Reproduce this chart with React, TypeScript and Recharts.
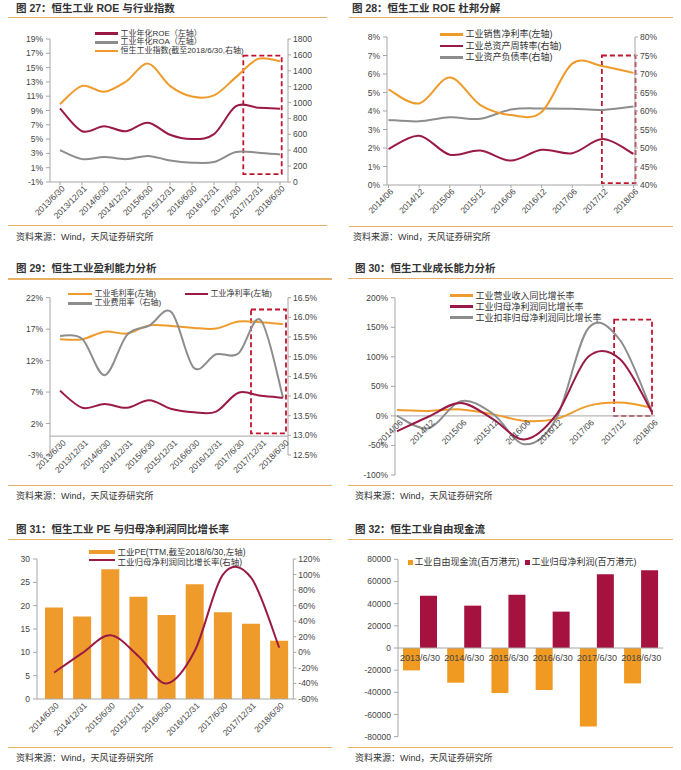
import React from "react";
import {
  LineChart,
  BarChart,
  ComposedChart,
  Line,
  Bar,
  XAxis,
  YAxis,
  ReferenceArea,
  ReferenceLine,
  ReferenceDot,
} from "recharts";

const FONT = '"Liberation Sans", Arial, "Noto Sans CJK SC", sans-serif';
const ORANGE = "#EE9B2C";
const MAROON = "#9B1A44";
const GREY = "#8D8D8D";
const BOX_RED = "#C0152F";
const AXIS = "#A6A6A6";
const TICK_TXT = "#444";
const RULE = "#E8B066";

// 图27 / 图29 半年度
const halfYears = [
  "2013/6/30", "2013/12/31", "2014/6/30", "2014/12/31", "2015/6/30", "2015/12/31",
  "2016/6/30", "2016/12/31", "2017/6/30", "2017/12/31", "2018/6/30",
];
const roe = [9.3, 6.1, 6.8, 6.1, 7.3, 5.6, 5.0, 5.7, 9.6, 9.4, 9.25];
const roa = [3.45, 2.2, 2.5, 2.2, 2.65, 2.0, 1.7, 1.8, 3.2, 3.1, 2.85];
const hsIndex = [980, 1210, 1135, 1265, 1490, 1210, 1075, 1090, 1320, 1550, 1520];
const roeTicks = [-1, 1, 3, 5, 7, 9, 11, 13, 15, 17, 19];
const indexTicks = [0, 200, 400, 600, 800, 1000, 1200, 1400, 1600, 1800];

// 图28 / 图30
const halfYearsShort = [
  "2014/06", "2014/12", "2015/06", "2015/12", "2016/06", "2016/12", "2017/06", "2017/12", "2018/06",
];
const salesMargin = [5.17, 4.41, 5.81, 4.32, 3.78, 3.95, 6.56, 6.42, 6.06];
const assetTurnover = [49.7, 53.3, 48.2, 49.3, 46.6, 49.5, 48.6, 52.4, 48.4];
const debtRatio = [57.6, 57.2, 58.3, 57.9, 60.4, 60.7, 60.6, 60.3, 61.2];
const marginTicks = [0, 1, 2, 3, 4, 5, 6, 7, 8];
const ratioTicks = [40, 45, 50, 55, 60, 65, 70, 75, 80];

// 图29
const grossMargin = [15.4, 15.4, 16.6, 16.3, 17.6, 17.5, 17.2, 17.1, 18.2, 18.1, 17.8];
const netMargin = [7.2, 4.5, 5.1, 4.5, 5.7, 4.3, 3.8, 3.9, 6.9, 6.4, 6.1];
const expenseRatio = [15.53, 15.45, 14.53, 15.55, 15.79, 16.13, 14.72, 15.06, 15.08, 15.93, 13.96];
const profitTicks = [-3, 2, 7, 12, 17, 22];
const expenseTicks = [12.5, 13, 13.5, 14, 14.5, 15, 15.5, 16, 16.5];

// 图30 / 图31
const revenueYoY = [10, 8.5, 11, 3, -8.5, -5, 17, 22.5, 14];
const netProfitYoY = [-26, -1, 22, -5, -40, 2, 100, 96, 6];
const deductedYoY = [0, -21, 25, 4, -48, -4, 148, 128, 7];
const growthTicks = [-100, -50, 0, 50, 100, 150, 200];

// 图31
const peDates = [
  "2014/6/30", "2014/12/31", "2015/6/30", "2015/12/31", "2016/6/30", "2016/12/31",
  "2017/6/30", "2017/12/31", "2018/6/30",
];
const pe = [19.6, 17.7, 27.8, 21.9, 18.0, 24.6, 18.6, 16.1, 12.5];
const peTicks = [0, 5, 10, 15, 20, 25, 30];
const yoyTicks = [-60, -40, -20, 0, 20, 40, 60, 80, 100, 120];

// 图32
const years = ["2013/6/30", "2014/6/30", "2015/6/30", "2016/6/30", "2017/6/30", "2018/6/30"];
const freeCashFlow = [-20200, -31300, -40600, -37900, -70700, -31900];
const parentProfit = [47200, 38200, 48100, 32800, 66500, 70100];
const cashTicks = [-80000, -60000, -40000, -20000, 0, 20000, 40000, 60000, 80000];

const fig27 = halfYears.map((d, i) => ({ d, roe: roe[i], roa: roa[i], idx: hsIndex[i] }));
const fig28 = halfYearsShort.map((d, i) => ({ d, m: salesMargin[i], t: assetTurnover[i], r: debtRatio[i] }));
const fig29 = halfYears.map((d, i) => ({ d, g: grossMargin[i], n: netMargin[i], e: expenseRatio[i] }));
const fig30 = halfYearsShort.map((d, i) => ({ d, rev: revenueYoY[i], np: netProfitYoY[i], dn: deductedYoY[i] }));
const fig31 = peDates.map((d, i) => ({ d, pe: pe[i], np: netProfitYoY[i] }));
const fig32 = years.map((d, i) => ({ d, fcf: freeCashFlow[i], np: parentProfit[i] }));

// Excel 风格平滑线 (Catmull-Rom)
function excelSmooth(context: any) {
  let pts: number[][] = [];
  return {
    areaStart() {},
    areaEnd() {},
    lineStart() {
      pts = [];
    },
    point(x: number, y: number) {
      pts.push([+x, +y]);
    },
    lineEnd() {
      if (!pts.length) return;
      context.moveTo(pts[0][0], pts[0][1]);
      for (let i = 0; i < pts.length - 1; i++) {
        const p0 = pts[Math.max(i - 1, 0)];
        const p1 = pts[i];
        const p2 = pts[i + 1];
        const p3 = pts[Math.min(i + 2, pts.length - 1)];
        context.bezierCurveTo(
          p1[0] + (p2[0] - p0[0]) / 6,
          p1[1] + (p2[1] - p0[1]) / 6,
          p2[0] - (p3[0] - p1[0]) / 6,
          p2[1] - (p3[1] - p1[1]) / 6,
          p2[0],
          p2[1]
        );
      }
    },
  };
}

const pct = (v: number) => `${v}%`;
const pct1 = (v: number) => `${v.toFixed(1)}%`;

const tickStyle = { fontSize: 8.5, fill: TICK_TXT };
const axisProps = {
  axisLine: { stroke: AXIS },
  tickLine: { stroke: AXIS },
  tickSize: 4,
  tickMargin: 3,
  tick: tickStyle,
  interval: 0 as const,
};

const RotTick = (props: any) => {
  const { x, y, payload } = props;
  return (
    <text
      x={0}
      y={0}
      dy={6}
      transform={`translate(${x + 1},${y}) rotate(-45)`}
      textAnchor="end"
      fontSize={8.5}
      fill={TICK_TXT}
    >
      {payload.value}
    </text>
  );
};

const rotLabel = (text: string) => (props: any) => {
  const vb = props.viewBox || { x: 0, y: 0 };
  return (
    <text
      x={0}
      y={0}
      dy={6}
      transform={`translate(${vb.x + 2},${vb.y + 3}) rotate(-45)`}
      textAnchor="end"
      fontSize={8.5}
      fill={TICK_TXT}
    >
      {text}
    </text>
  );
};

const flatLabel = (text: string) => (props: any) => {
  const vb = props.viewBox || { x: 0, y: 0 };
  return (
    <text x={vb.x} y={vb.y + 13} textAnchor="middle" fontSize={9} fill={TICK_TXT}>
      {text}
    </text>
  );
};

const dashBox = (dx1: number, dx2: number) => (p: any) => (
  <rect
    x={p.x + dx1}
    y={p.y}
    width={p.width - dx1 + dx2}
    height={p.height}
    fill="none"
    stroke={BOX_RED}
    strokeWidth={1.8}
    strokeDasharray="5 3"
  />
);

function Title({ x, y, text }: { x: number; y: number; text: string }) {
  return (
    <div
      style={{
        position: "absolute",
        left: x,
        top: y - 7,
        lineHeight: "14px",
        fontSize: 10.5,
        fontWeight: 700,
        color: "#333",
        whiteSpace: "nowrap",
      }}
    >
      {text}
    </div>
  );
}

function Rule({ x1, x2, y }: { x1: number; x2: number; y: number }) {
  return <div style={{ position: "absolute", left: x1, top: y - 0.75, width: x2 - x1, height: 1.5, background: RULE }} />;
}

function Source({ x, y }: { x: number; y: number }) {
  return (
    <div style={{ position: "absolute", left: x, top: y - 6, lineHeight: "12px", fontSize: 9, color: "#333", whiteSpace: "nowrap" }}>
      资料来源：Wind，天风证券研究所
    </div>
  );
}

function Key({
  x,
  w,
  y,
  ty,
  color,
  kind,
  label,
  size = 9,
}: {
  x: number;
  w: number;
  y: number;
  ty?: number;
  color: string;
  kind: "line" | "bar" | "square";
  label: string;
  size?: number;
}) {
  const h = kind === "line" ? 2.5 : kind === "bar" ? 4 : 5;
  const sw = kind === "square" ? 5 : w;
  const textY = ty ?? y;
  return (
    <>
      <div style={{ position: "absolute", left: x, top: y - h / 2, width: sw, height: h, background: color }} />
      <div
        style={{
          position: "absolute",
          left: x + sw + (kind === "square" ? 1.5 : 2.5),
          top: textY - 5,
          lineHeight: "10px",
          fontSize: size,
          color: "#333",
          whiteSpace: "nowrap",
        }}
      >
        {label}
      </div>
    </>
  );
}

const abs = (left: number, top: number) => ({ position: "absolute" as const, left, top });

export default function App() {
  return (
    <div
      style={{
        position: "absolute",
        left: 0,
        top: 0,
        width: 681,
        height: 770,
        background: "#fff",
        fontFamily: FONT,
        overflow: "hidden",
      }}
    >
      {/* 图27 */}
      <div style={abs(0, 0)}>
        <LineChart width={340} height={225} data={fig27} margin={{ top: 39, right: 12, bottom: 0, left: 0 }}>
          <XAxis dataKey="d" scale="point" padding={{ left: 10, right: 8 }} height={43} interval={0}
            axisLine={{ stroke: AXIS }} tickLine={{ stroke: AXIS }} tickSize={3} tickMargin={0} tick={RotTick} />
          <YAxis yAxisId="l" width={50} domain={[-1, 19]} ticks={roeTicks} tickFormatter={pct} {...axisProps} />
          <YAxis yAxisId="r" orientation="right" width={40} domain={[0, 1800]} ticks={indexTicks}
            {...axisProps} tickSize={3} tickMargin={2} />
          <Line yAxisId="r" dataKey="idx" type={excelSmooth as any} stroke={ORANGE} strokeWidth={2} dot={false} isAnimationActive={false} />
          <Line yAxisId="l" dataKey="roa" type={excelSmooth as any} stroke={GREY} strokeWidth={2} dot={false} isAnimationActive={false} />
          <Line yAxisId="l" dataKey="roe" type={excelSmooth as any} stroke={MAROON} strokeWidth={2} dot={false} isAnimationActive={false} />
          <ReferenceArea yAxisId="r" x1="2017/12/31" x2="2018/6/30" y1={100} y2={1590} ifOverflow="visible" shape={dashBox(-14.7, 1.7)} />
        </LineChart>
      </div>
      <Title x={16} y={8} text="图 27：恒生工业 ROE 与行业指数" />
      <Rule x1={8} x2={327} y={17.5} />
      <Key x={95} w={23} y={33.6} color={MAROON} kind="line" label="工业年化ROE（左轴）" size={8} />
      <Key x={95} w={23} y={42.4} color={GREY} kind="line" label="工业年化ROA（左轴）" size={8} />
      <Key x={95} w={23} y={51.2} color={ORANGE} kind="line" label="恒生工业指数(截至2018/6/30,右轴)" size={8} />
      <Rule x1={8} x2={327} y={225.5} />
      <Source x={16} y={237} />

      {/* 图28 */}
      <div style={abs(340, 0)}>
        <LineChart width={341} height={225} data={fig28} margin={{ top: 37, right: 6, bottom: 0, left: 0 }}>
          <XAxis dataKey="d" scale="point" padding={{ left: 1.5, right: 1.5 }} height={40} interval={0}
            axisLine={{ stroke: AXIS }} tickLine={{ stroke: AXIS }} tickSize={3} tickMargin={0} tick={RotTick} />
          <YAxis yAxisId="l" width={47} domain={[0, 8]} ticks={marginTicks} tickFormatter={pct} {...axisProps} />
          <YAxis yAxisId="r" orientation="right" width={40} domain={[40, 80]} ticks={ratioTicks} tickFormatter={pct}
            {...axisProps} tickSize={3} tickMargin={2} />
          <Line yAxisId="r" dataKey="r" type={excelSmooth as any} stroke={GREY} strokeWidth={2} dot={false} isAnimationActive={false} />
          <Line yAxisId="r" dataKey="t" type={excelSmooth as any} stroke={MAROON} strokeWidth={2} dot={false} isAnimationActive={false} />
          <Line yAxisId="l" dataKey="m" type={excelSmooth as any} stroke={ORANGE} strokeWidth={2} dot={false} isAnimationActive={false} />
          <ReferenceArea yAxisId="r" x1="2017/12" x2="2018/06" y1={40.5} y2={75} ifOverflow="visible" shape={dashBox(-1, 2)} />
        </LineChart>
      </div>
      <Title x={352} y={8} text="图 28：恒生工业 ROE 杜邦分解" />
      <Rule x1={349} x2={673} y={17.5} />
      <Key x={440} w={23} y={34.3} color={ORANGE} kind="line" label="工业销售净利率(左轴)" />
      <Key x={440} w={23} y={46.2} color={MAROON} kind="line" label="工业总资产周转率(右轴)" />
      <Key x={440} w={23} y={57.3} color={GREY} kind="line" label="工业资产负债率(右轴)" />
      <Rule x1={349} x2={673} y={226.5} />
      <Source x={353} y={237} />

      {/* 图29 */}
      <div style={abs(0, 255)}>
        <LineChart width={340} height={230} data={fig29} margin={{ top: 42.7, right: 12, bottom: 30, left: 0 }}>
          <XAxis dataKey="d" scale="point" padding={{ left: 10, right: 5 }} hide />
          <YAxis yAxisId="l" width={50} domain={[-3, 22]} ticks={profitTicks} tickFormatter={pct} {...axisProps} />
          <YAxis yAxisId="r" orientation="right" width={40} domain={[12.5, 16.5]} ticks={expenseTicks} tickFormatter={pct1}
            {...axisProps} tickSize={3} tickMargin={2} />
          <ReferenceLine yAxisId="l" y={0} stroke={AXIS} />
          <Line yAxisId="l" dataKey="g" type={excelSmooth as any} stroke={ORANGE} strokeWidth={2} dot={false} isAnimationActive={false} />
          <Line yAxisId="r" dataKey="e" type={excelSmooth as any} stroke={GREY} strokeWidth={2} dot={false} isAnimationActive={false} />
          <Line yAxisId="l" dataKey="n" type={excelSmooth as any} stroke={MAROON} strokeWidth={2} dot={false} isAnimationActive={false} />
          <ReferenceArea yAxisId="r" x1="2017/12/31" x2="2018/6/30" y1={13.05} y2={16.2} ifOverflow="visible" shape={dashBox(-9.7, 3)} />
          {halfYears.map((d) => (
            <ReferenceDot key={d} yAxisId="l" x={d} y={0} r={0} fill="none" stroke="none" label={rotLabel(d)} />
          ))}
        </LineChart>
      </div>
      <Title x={16} y={268.3} text="图 29：恒生工业盈利能力分析" />
      <Rule x1={8} x2={332} y={278.8} />
      <Key x={68} w={24} y={294.2} color={ORANGE} kind="line" label="工业毛利率(左轴)" size={8} />
      <Key x={185} w={23} y={294.2} color={MAROON} kind="line" label="工业净利率(左轴)" size={8} />
      <Key x={68} w={24} y={303.4} color={GREY} kind="line" label="工业费用率（右轴)" size={8} />
      <Rule x1={8} x2={332} y={485.3} />
      <Source x={16} y={495.7} />

      {/* 图30 */}
      <div style={abs(340, 255)}>
        <LineChart width={341} height={230} data={fig30} margin={{ top: 42.7, right: 26, bottom: 10, left: 0 }}>
          <XAxis dataKey="d" scale="point" padding={{ left: 2, right: 3 }} hide />
          <YAxis width={55} domain={[-100, 200]} ticks={growthTicks} tickFormatter={pct} {...axisProps} />
          <ReferenceLine y={0} stroke={AXIS} />
          <Line dataKey="rev" type={excelSmooth as any} stroke={ORANGE} strokeWidth={2} dot={false} isAnimationActive={false} />
          <Line dataKey="dn" type={excelSmooth as any} stroke={GREY} strokeWidth={2} dot={false} isAnimationActive={false} />
          <Line dataKey="np" type={excelSmooth as any} stroke={MAROON} strokeWidth={2} dot={false} isAnimationActive={false} />
          <ReferenceArea x1="2017/12" x2="2018/06" y1={0} y2={163} ifOverflow="visible" shape={dashBox(-6, 0)} />
          {halfYearsShort.map((d) => (
            <ReferenceDot key={d} x={d} y={0} r={0} fill="none" stroke="none" label={rotLabel(d)} />
          ))}
        </LineChart>
      </div>
      <Title x={355} y={268.3} text="图 30：恒生工业成长能力分析" />
      <Rule x1={348} x2={673} y={278.5} />
      <Key x={450} w={23} y={295.7} color={ORANGE} kind="line" label="工业营业收入同比增长率" />
      <Key x={450} w={23} y={306.7} color={MAROON} kind="line" label="工业归母净利润同比增长率" />
      <Key x={450} w={23} y={317.5} color={GREY} kind="line" label="工业扣非归母净利润同比增长率" />
      <Rule x1={348} x2={673} y={485.5} />
      <Source x={355} y={495.7} />

      {/* 图31 */}
      <div style={abs(0, 510)}>
        <ComposedChart width={340} height={238} data={fig31} margin={{ top: 49, right: 6.7, bottom: 0, left: 0 }}>
          <XAxis dataKey="d" padding={{ left: 3, right: 0 }} height={49} interval={0}
            axisLine={{ stroke: AXIS }} tickLine={false} tickSize={3} tickMargin={0} tick={RotTick} />
          <YAxis yAxisId="l" width={37} domain={[0, 30]} ticks={peTicks} {...axisProps} />
          <YAxis yAxisId="r" orientation="right" width={40} domain={[-60, 120]} ticks={yoyTicks} tickFormatter={pct}
            {...axisProps} tickSize={3} tickMargin={2} />
          <Bar yAxisId="l" dataKey="pe" fill={ORANGE} barSize={18} isAnimationActive={false} />
          <Line yAxisId="r" dataKey="np" type={excelSmooth as any} stroke={MAROON} strokeWidth={2} dot={false} isAnimationActive={false} />
        </ComposedChart>
      </div>
      <Title x={16} y={528.5} text="图 31：恒生工业 PE 与归母净利润同比增长率" />
      <Rule x1={8} x2={332} y={539.3} />
      <Key x={89} w={26} y={552.4} color={ORANGE} kind="bar" label="工业PE(TTM,截至2018/6/30,左轴)" size={8.5} />
      <Key x={89} w={26} y={560.2} ty={562.2} color={MAROON} kind="line" label="工业归母净利润同比增长率(右轴)" size={8.5} />
      <Rule x1={8} x2={332} y={747.7} />
      <Source x={16} y={758.3} />

      {/* 图32 */}
      <div style={abs(340, 510)}>
        <BarChart width={341} height={238} data={fig32} barGap={0} margin={{ top: 49.3, right: 17.7, bottom: 11.3, left: 0 }}>
          <XAxis dataKey="d" hide />
          <YAxis width={58} domain={[-80000, 80000]} ticks={cashTicks} {...axisProps} />
          <ReferenceLine y={0} stroke={AXIS} />
          <Bar dataKey="fcf" fill="#F09A22" barSize={17} isAnimationActive={false} />
          <Bar dataKey="np" fill="#A5123F" barSize={17} isAnimationActive={false} />
          {years.map((d) => (
            <ReferenceDot key={d} x={d} y={0} r={0} fill="none" stroke="none" label={flatLabel(d)} />
          ))}
        </BarChart>
      </div>
      <Title x={355} y={529} text="图 32：恒生工业自由现金流" />
      <Rule x1={348} x2={673} y={539.3} />
      <Key x={408} w={5} y={562} color="#F09A22" kind="square" label="工业自由现金流(百万港元)" />
      <Key x={525} w={5} y={562} color="#A5123F" kind="square" label="工业归母净利润(百万港元)" />
      <Rule x1={348} x2={673} y={747.7} />
      <Source x={355} y={758.3} />
    </div>
  );
}
